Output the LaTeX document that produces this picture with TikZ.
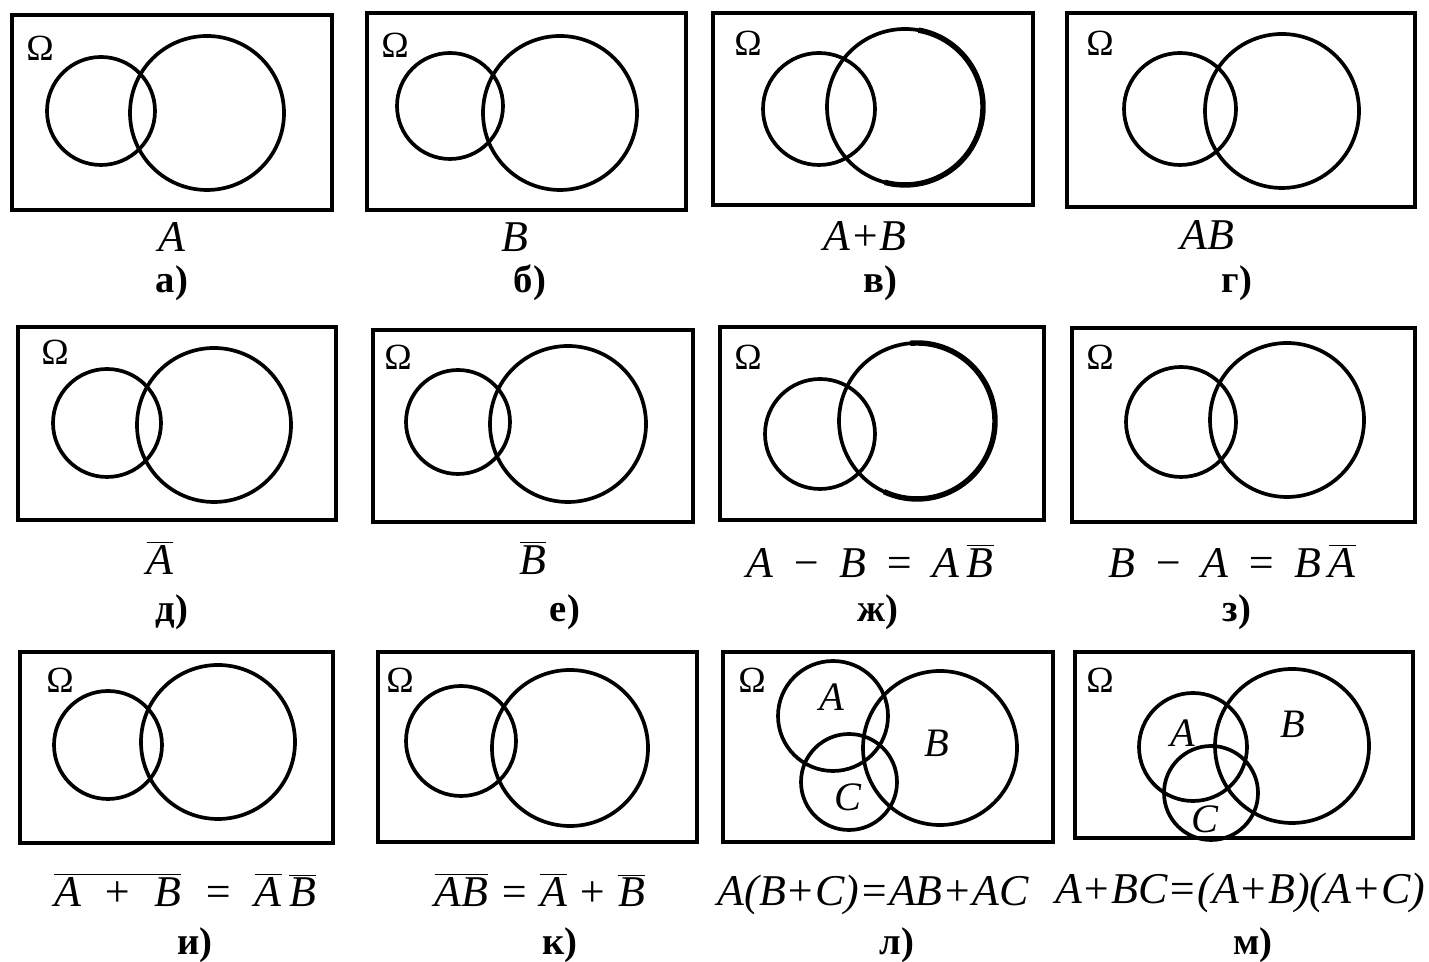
\documentclass[tikz,border=0pt]{standalone}
\usepackage{fontspec}
\setmainfont{Liberation Serif}
\usetikzlibrary{positioning}
\newcommand{\ovl}[1]{$\overline{\mbox{#1}}$}

\begin{document}
\begin{tikzpicture}[x=0.02cm, y=0.02cm,
        frame/.style={line width=2.2pt},
        ring/.style={line width=2.1pt},
        heavy/.style={line width=3.1pt},
        omega/.style={font=\fontsize{21}{24}\selectfont, inner sep=0pt},
        formula/.style={font=\fontsize{25}{28}\selectfont\itshape, inner sep=0pt},
        letter/.style={font=\fontsize{23}{26}\selectfont\itshape, inner sep=0pt},
        tag/.style={font=\fontsize{22}{24}\selectfont\bfseries, inner sep=0pt}]
        \useasboundingbox (0,0) rectangle (1429,962);

        % row 1
        \draw[frame] (12,947) rectangle (332,752);
        \draw[ring] (101,851) circle[radius=54];
        \draw[ring] (207,849) circle[radius=77];
        \node[omega] (om-a) at (40,914) {Ω};
        \node[formula] (fm-a) at (172,725) {A};
        \node[tag] (tag-a) at (172,679) {а)};

        \draw[frame] (367,949) rectangle (686,752);
        \draw[ring] (450,856) circle[radius=53];
        \draw[ring] (560,849) circle[radius=77];
        \node[omega] (om-b) at (395,917) {Ω};
        \node[formula] (fm-b) at (515,725) {B};
        \node[tag] (tag-b) at (530,679) {б)};

        \draw[frame] (713,949) rectangle (1033,757);
        \draw[ring] (819,853) circle[radius=56];
        \draw[ring] (905,855) circle[radius=78];
        \draw[heavy] ([shift={(80:78)}]905,855) arc[start angle=80, end angle=-105, radius=78];
        \node[omega] (om-c) at (748,919) {Ω};
        \node[formula] (fm-c) at (865,726) {A+B};
        \node[tag] (tag-c) at (880,679) {в)};

        \draw[frame] (1067,949) rectangle (1415,755);
        \draw[ring] (1180,853) circle[radius=56];
        \draw[ring] (1282,851) circle[radius=77];
        \node[omega] (om-d) at (1100,919) {Ω};
        \node[formula] (fm-d) at (1207,727) {AB};
        \node[tag] (tag-d) at (1237,679) {г)};

        % row 2
        \draw[frame] (18,635) rectangle (336,442);
        \draw[ring] (107,539) circle[radius=54];
        \draw[ring] (214,537) circle[radius=77];
        \node[omega] (om-e) at (55,610) {Ω};
        \node[formula] (fm-e) at (160,404) {\ovl{A}};
        \node[tag] (tag-e) at (172,350) {д)};

        \draw[frame] (373,632) rectangle (693,440);
        \draw[ring] (458,540) circle[radius=52];
        \draw[ring] (568,538) circle[radius=78];
        \node[omega] (om-f) at (398,605) {Ω};
        \node[formula] (fm-f) at (533,404) {\ovl{B}};
        \node[tag] (tag-f) at (565,350) {е)};

        \draw[frame] (720,635) rectangle (1044,442);
        \draw[ring] (820,528) circle[radius=55];
        \draw[ring] (917,541) circle[radius=78];
        \draw[heavy] ([shift={(95:78)}]917,541) arc[start angle=95, end angle=-115, radius=78];
        \node[omega] (om-g) at (748,605) {Ω};
        \node[formula] (fm-g) at (870,401) {A \,−\, B \,=\, A\,\ovl{B}};
        \node[tag] (tag-g) at (878,350) {ж)};

        \draw[frame] (1072,634) rectangle (1415,440);
        \draw[ring] (1181,540) circle[radius=55];
        \draw[ring] (1287,542) circle[radius=77];
        \node[omega] (om-h) at (1100,605) {Ω};
        \node[formula] (fm-h) at (1232,401) {B \,−\, A \,=\, B\,\ovl{A}};
        \node[tag] (tag-h) at (1237,350) {з)};

        % row 3
        \draw[frame] (20,310) rectangle (333,119);
        \draw[ring] (108,217) circle[radius=54];
        \draw[ring] (218,220) circle[radius=77];
        \node[omega] (om-i) at (60,282) {Ω};
        \node[formula] (fm-i) at (185,72) {\ovl{A \ + \ B}\ \ =\ \ \ovl{A}\,\ovl{B}};
        \node[tag] (tag-i) at (195,17) {и)};

        \draw[frame] (378,310) rectangle (697,120);
        \draw[ring] (461,221) circle[radius=55];
        \draw[ring] (570,214) circle[radius=78];
        \node[omega] (om-j) at (400,282) {Ω};
        \node[formula] (fm-j) at (540,72) {\ovl{AB} = \ovl{A} + \ovl{B}};
        \node[tag] (tag-j) at (560,17) {к)};

        \draw[frame] (723,310) rectangle (1053,120);
        \draw[ring] (833,246) circle[radius=55];
        \draw[ring] (940,214) circle[radius=77];
        \draw[ring] (849,180) circle[radius=48];
        \node[letter] (la-k) at (832,265) {A};
        \node[letter] (lb-k) at (937,219) {B};
        \node[letter] (lc-k) at (848,165) {C};
        \node[omega] (om-k) at (752,282) {Ω};
        \node[formula] (fm-k) at (873,67) {A(B+C)=AB+AC};
        \node[tag] (tag-k) at (897,17) {л)};

        \draw[frame] (1075,310) rectangle (1413,124);
        \draw[ring] (1193,215) circle[radius=54];
        \draw[ring] (1292,216) circle[radius=77];
        \draw[ring] (1211,169) circle[radius=47];
        \node[letter] (la-l) at (1183,229) {A};
        \node[letter] (lb-l) at (1293,238) {B};
        \node[letter] (lc-l) at (1205,143) {C};
        \node[omega] (om-l) at (1100,282) {Ω};
        \node[formula] (fm-l) at (1240,69) {A+BC=(A+B)(A+C)};
        \node[tag] (tag-l) at (1253,17) {м)};
\end{tikzpicture}
\end{document}
